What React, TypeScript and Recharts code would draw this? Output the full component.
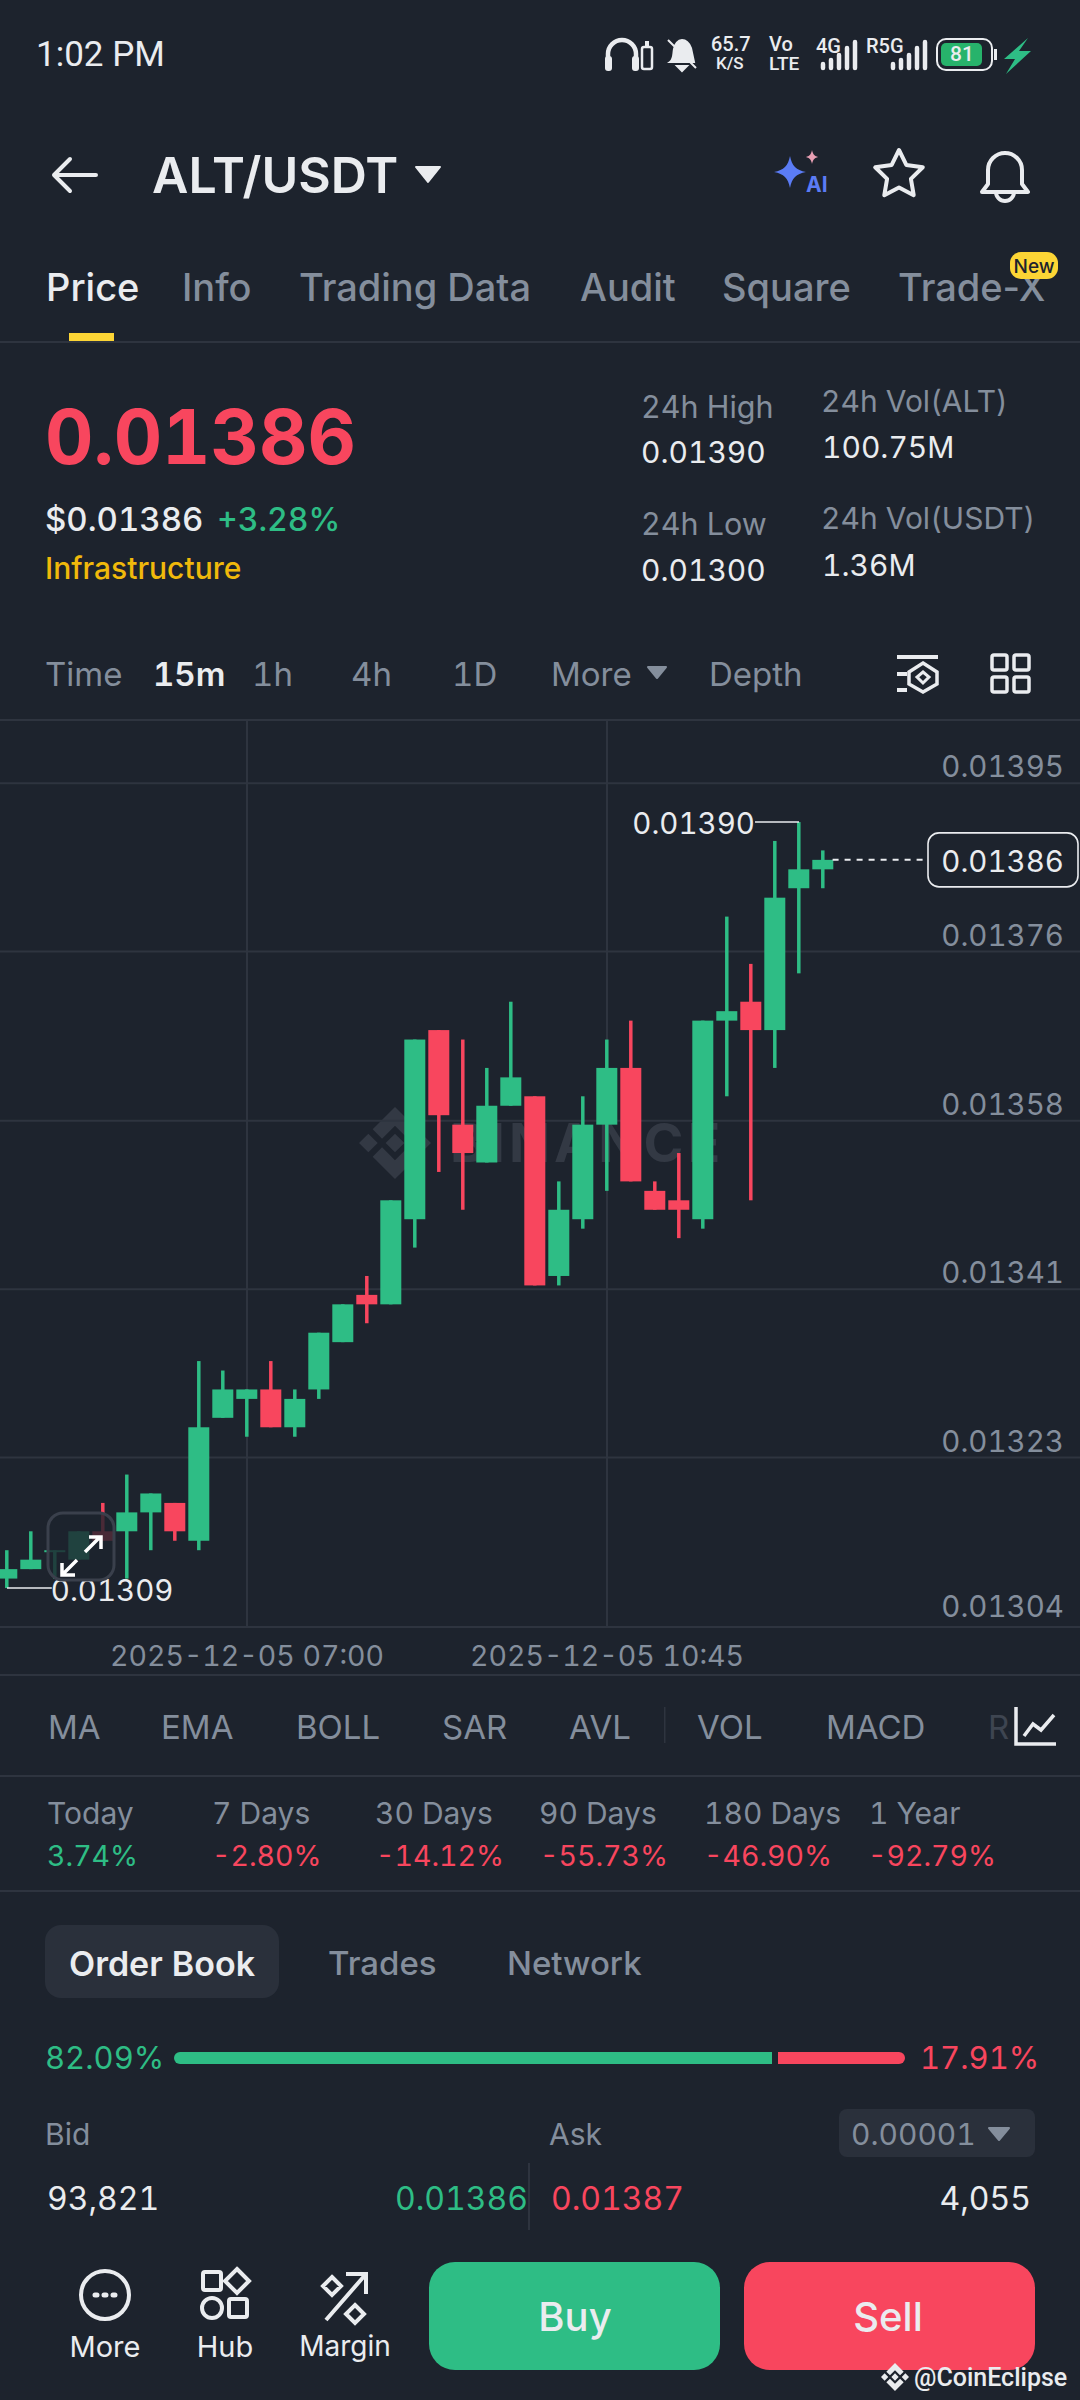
import React from 'react';
import { ComposedChart, Bar, XAxis, YAxis, CartesianGrid, ReferenceLine, ReferenceDot } from 'recharts';

const BG = '#1d232d';
const GREEN = '#2ebd85';
const RED = '#f8465e';
const GREY = '#848e9c';
const WHITE = '#eaecef';
const LINE = '#2e343f';
const PANEL = '#2a303b';

const candleTimes = [
  '04:30', '04:45', '05:00', '05:15', '05:30', '05:45', '06:00', '06:15', '06:30', '06:45', '07:00', '07:15',
  '07:30', '07:45', '08:00', '08:15', '08:30', '08:45', '09:00', '09:15', '09:30', '09:45', '10:00', '10:15',
  '10:30', '10:45', '11:00', '11:15', '11:30', '11:45', '12:00', '12:15', '12:30', '12:45', '13:00',
];
const openPrices = [
  0.0131, 0.01311, 0.01313, 0.01312, 0.01315, 0.01315, 0.01317, 0.01318, 0.01314, 0.01327, 0.01329, 0.0133,
  0.01326, 0.0133, 0.01335, 0.0134, 0.01339, 0.01348, 0.01368, 0.01358, 0.01354, 0.0136, 0.01361, 0.01342,
  0.01348, 0.01358, 0.01364, 0.01351, 0.0135, 0.01348, 0.01369, 0.01371, 0.01368, 0.01383, 0.01385,
];
const closePrices = [
  0.01311, 0.01312, 0.01313, 0.01315, 0.01314, 0.01317, 0.01319, 0.01315, 0.01326, 0.0133, 0.0133, 0.01326,
  0.01329, 0.01336, 0.01339, 0.01339, 0.0135, 0.01367, 0.01359, 0.01355, 0.0136, 0.01363, 0.01341, 0.01349,
  0.01358, 0.01364, 0.01352, 0.01349, 0.01349, 0.01369, 0.0137, 0.01368, 0.01382, 0.01385, 0.01386,
];
const highPrices = [
  0.01313, 0.01315, 0.01313, 0.01315, 0.01318, 0.01321, 0.01319, 0.01318, 0.01333, 0.01332, 0.0133, 0.01333,
  0.0133, 0.01336, 0.01339, 0.01342, 0.0135, 0.01367, 0.01368, 0.01367, 0.01364, 0.01371, 0.01361, 0.01352,
  0.01361, 0.01367, 0.01369, 0.01352, 0.01355, 0.01369, 0.0138, 0.01375, 0.01388, 0.0139, 0.01387,
];
const lowPrices = [
  0.01309, 0.01311, 0.0131, 0.01312, 0.01314, 0.0131, 0.01313, 0.01314, 0.01313, 0.01327, 0.01325, 0.01326,
  0.01325, 0.01329, 0.01335, 0.01337, 0.01339, 0.01345, 0.01353, 0.01349, 0.01354, 0.0136, 0.01341, 0.01341,
  0.01347, 0.01351, 0.01352, 0.01349, 0.01346, 0.01347, 0.01361, 0.0135, 0.01364, 0.01374, 0.01383,
];

const yTickPrices = [0.013941, 0.013763, 0.013584, 0.013406, 0.013228, 0.0130488];
const yTickLabels = ['0.01395', '0.01376', '0.01358', '0.01341', '0.01323', '0.01304'];
const xTickTimes = ['07:00', '10:45'];
const xTickLabels = ['2025-12-05 07:00', '2025-12-05 10:45'];

const statPeriods = ['Today', '7 Days', '30 Days', '90 Days', '180 Days', '1 Year'];
const statChanges = ['3.74%', '-2.80%', '-14.12%', '-55.73%', '-46.90%', '-92.79%'];
const topTabs = ['Price', 'Info', 'Trading Data', 'Audit', 'Square', 'Trade-X'];
const intervals = ['Time', '15m', '1h', '4h', '1D', 'More', 'Depth'];
const indicators = ['MA', 'EMA', 'BOLL', 'SAR', 'AVL', 'VOL', 'MACD'];

const toMinutes = (t: string) => {
  const [h, m] = t.split(':').map(Number);
  return h * 60 + m;
};

const candles = candleTimes.map((time, i) => ({
  minute: toMinutes(time),
  open: openPrices[i],
  close: closePrices[i],
  high: highPrices[i],
  low: lowPrices[i],
  range: [lowPrices[i], highPrices[i]],
}));

const Candle = (props: any) => {
  const { x, y, width, height, payload } = props;
  const pxPerPrice = height / (payload.high - payload.low);
  const top = y + (payload.high - Math.max(payload.open, payload.close)) * pxPerPrice;
  const bodyH = Math.max(Math.abs(payload.open - payload.close) * pxPerPrice, 2);
  const color = payload.close >= payload.open ? GREEN : RED;
  const mid = x + width / 2;
  return (
    <g>
      <rect x={mid - 1.75} y={y} width={3.5} height={height} fill={color} />
      <rect x={mid - 10.5} y={top} width={21} height={bodyH} fill={color} />
    </g>
  );
};

// the bottom label sits a little higher than the others
const YTick = (props: any) => (
  <text x={1064} y={props.y - (props.index === 5 ? 21 : 17)} textAnchor="end" dominantBaseline="central" fontSize={29.5} fill={GREY}>
    {yTickLabels[props.index]}
  </text>
);

const XTick = (props: any) => (
  <text x={props.x} y={1655 - 720} textAnchor="middle" dominantBaseline="central" fontSize={28.5} fill={GREY}>
    {xTickLabels[props.index]}
  </text>
);

const HighTag = (props: any) => (
  <text x={props.cx} y={props.cy + 1} textAnchor="end" dominantBaseline="central" fontSize={29.5} fill={WHITE}>
    0.01390
  </text>
);

const LowTag = (props: any) => (
  <text x={props.cx - 1} y={props.cy + 2} textAnchor="start" dominantBaseline="central" fontSize={29.5} fill={WHITE}>
    0.01309
  </text>
);

const LastTag = (props: any) => (
  <g>
    <rect x={928} y={props.cy - 27} width={150} height={54} rx={11} fill={BG} stroke={WHITE} strokeWidth={1.6} />
    <text x={1064} y={props.cy + 1} textAnchor="end" dominantBaseline="central" fontSize={29.5} fill={WHITE}>
      0.01386
    </text>
  </g>
);

const Txt = ({ x, y, s, c = GREY, w = 400, a = 'start', f, nv, children }: any) => (
  <text
    x={x}
    y={y}
    fontSize={s}
    fill={c}
    fontWeight={w}
    textAnchor={a}
    dominantBaseline="central"
    fontFamily={f}
    style={nv ? { fontVariantNumeric: 'normal' } : undefined}
  >
    {children}
  </text>
);

const Tri = ({ x, y, w, h, c }: any) => (
  <path d={`M${x} ${y}h${w}l${-w / 2} ${h}z`} fill={c} stroke={c} strokeWidth={2} strokeLinejoin="round" />
);

const Signal = ({ x, base, c = WHITE }: any) => (
  <g stroke={c} strokeWidth={4.5} strokeLinecap="round">
    <path d={`M${x} ${base}v-4M${x + 8} ${base}v-8M${x + 16} ${base}v-13M${x + 24} ${base}v-20M${x + 32} ${base}v-26`} />
  </g>
);

const StatusBar = () => (
  <g>
    <Txt x={36} y={54} s={35} c={WHITE} f="Roboto">1:02 PM</Txt>
    <path d="M608 66V54a14 14 0 0 1 28 0v12" fill="none" stroke={WHITE} strokeWidth={4.5} />
    <rect x={605} y={56} width={7} height={15} rx={3} fill={WHITE} />
    <rect x={632} y={56} width={7} height={15} rx={3} fill={WHITE} />
    <rect x={642} y={47} width={10} height={22} rx={2} fill="none" stroke={WHITE} strokeWidth={2.5} />
    <rect x={645} y={41} width={4} height={5} fill={WHITE} />
    <path d="M670 62c4-3 3-8 4-13s4-9 8-9 7 3 9 8l3 14zM677 66h10l-5 5zM668 40l28 28" fill={WHITE} stroke={WHITE} strokeWidth={2} />
    <Txt x={711} y={44} s={20} c={WHITE} w={500} f="Roboto">65.7</Txt>
    <Txt x={716} y={63} s={17} c={WHITE} w={500} f="Roboto">K/S</Txt>
    <Txt x={769} y={44} s={20} c={WHITE} w={500} f="Roboto">Vo</Txt>
    <Txt x={769} y={63} s={19} c={WHITE} w={500} f="Roboto">LTE</Txt>
    <Txt x={816} y={46} s={20} c={WHITE} w={500} f="Roboto">4G</Txt>
    <Signal x={823} base={68} />
    <Txt x={866} y={46} s={20} c={WHITE} w={500} f="Roboto">R5G</Txt>
    <Signal x={893} base={68} />
    <rect x={937} y={39} width={55} height={31} rx={9} fill="none" stroke={WHITE} strokeWidth={2} />
    <rect x={941} y={43} width={41} height={23} rx={5} fill="#27b36b" />
    <rect x={994} y={49} width={3} height={11} fill={WHITE} />
    <Txt x={962} y={54} s={21} c={WHITE} w={500} a="middle" f="Roboto">81</Txt>
    <path d="M1028 38l-24 21h11l-9 15 25-23h-12l9-13z" fill={GREEN} />
  </g>
);

const Header = () => (
  <g>
    <path d="M96 175H54M70 159L54 175l16 16" fill="none" stroke={WHITE} strokeWidth={4} strokeLinecap="round" strokeLinejoin="round" />
    <Txt x={152} y={175} s={50} c={WHITE} w={600}>ALT/USDT</Txt>
    <Tri x={416} y={167} w={24} h={15} c={WHITE} />
    <path d="M790 156c2 10 6 14 16 16-10 2-14 6-16 16-2-10-6-14-16-16 10-2 14-6 16-16z" fill="#5b7cf5" />
    <path d="M812 150c1 5 3 6 6 7-3 1-5 2-6 7-1-5-3-6-6-7 3-1 5-2 6-7z" fill="#e8a0b4" />
    <Txt x={806} y={184} s={21} c="#5b7cf5" w={700}>AI</Txt>
    <polygon
      points="899,150 906.3,164.9 922.8,167.3 910.9,178.9 913.7,195.2 899,187.5 884.3,195.2 887.1,178.9 875.2,167.3 891.7,164.9"
      fill="none" stroke={WHITE} strokeWidth={4} strokeLinejoin="round"
    />
    <path d="M988 184v-14a17 17 0 0 1 34 0v14l6 8H982zM996 192a9 9 0 0 0 18 0" fill="none" stroke={WHITE} strokeWidth={4} strokeLinejoin="round" />
    {topTabs.map((t, i) => (
      <Txt key={t} x={[46, 182, 299, 580, 722, 898][i]} y={287} s={38} c={i === 0 ? WHITE : GREY} w={500} nv>{t}</Txt>
    ))}
    <rect x={1010} y={252} width={48} height={27} rx={11} fill="#fcd535" />
    <Txt x={1034} y={266} s={19} c="#1d232d" w={500} a="middle">New</Txt>
    <rect x={69} y={333} width={45} height={9} fill="#fcd535" />
    <rect x={0} y={341} width={1080} height={2} fill={LINE} />
  </g>
);

const PriceBlock = () => (
  <g>
    <Txt x={45} y={436} s={75} c={RED} w={700}>0.01386</Txt>
    <Txt x={45} y={519} s={33} c={WHITE} w={500}>$0.01386</Txt>
    <Txt x={217} y={519} s={32} c={GREEN} w={500}>+3.28%</Txt>
    <Txt x={45} y={568} s={30} c="#f0b90b" w={500}>Infrastructure</Txt>
    <Txt x={641} y={406} s={30.5}>24h High</Txt>
    <Txt x={641} y={452} s={30} c={WHITE}>0.01390</Txt>
    <Txt x={641} y={523} s={30.5}>24h Low</Txt>
    <Txt x={641} y={570} s={30} c={WHITE}>0.01300</Txt>
    <Txt x={821} y={401} s={30}>24h Vol(ALT)</Txt>
    <Txt x={822} y={447} s={30} c={WHITE}>100.75M</Txt>
    <Txt x={821} y={518} s={30}>24h Vol(USDT)</Txt>
    <Txt x={822} y={565} s={30} c={WHITE}>1.36M</Txt>
  </g>
);

const IntervalRow = () => (
  <g>
    {intervals.map((t, i) => (
      <Txt key={t} x={[45, 153, 252, 351, 452, 551, 709][i]} y={674} s={33} c={i === 1 ? WHITE : GREY} w={i === 1 ? 600 : 400}>{t}</Txt>
    ))}
    <Tri x={648} y={667} w={18} h={11} c={GREY} />
    <path d="M897 657h41M897 674h10M897 690h10" stroke={WHITE} strokeWidth={4} />
    <path d="M923 663l14 9v12l-14 8-14-8v-12z" fill="none" stroke={WHITE} strokeWidth={3.5} />
    <path d="M923 672l6 5-6 6-6-6z" fill="none" stroke={WHITE} strokeWidth={3} />
    {[[992, 655], [1014, 655], [992, 677], [1014, 677]].map(([x, y]) => (
      <rect key={`${x}-${y}`} x={x} y={y} width={15} height={15} rx={2} fill="none" stroke={WHITE} strokeWidth={3.5} />
    ))}
    <rect x={0} y={719} width={1080} height={2} fill={LINE} />
  </g>
);

const BinanceLogo = ({ cx, cy, r, c }: any) => (
  <g transform={`translate(${cx} ${cy}) scale(${r / 10})`} fill={c}>
    <path d="M0-2.6L2.6 0 0 2.6-2.6 0z" />
    <path d="M-10 0l2.6-2.6L-4.8 0l-2.6 2.6zM10 0L7.4 2.6 4.8 0l2.6-2.6z" />
    <path d="M0-10L6.2-3.8 3.6-1.2 0-4.8-3.6-1.2-6.2-3.8z" />
    <path d="M0 10L-6.2 3.8-3.6 1.2 0 4.8 3.6 1.2 6.2 3.8z" />
  </g>
);

const Watermark = () => (
  <g>
    <BinanceLogo cx={395} cy={1143} r={36} c="#333944" />
    <text x={450} y={1162} fontSize={54} fontWeight={700} letterSpacing={4} fill="#333944">BINANCE</text>
  </g>
);

const LowerPanels = () => (
  <g>
    <rect x={0} y={1674} width={1080} height={2} fill={LINE} />
    {indicators.map((t, i) => (
      <Txt key={t} x={[48, 161, 296, 442, 569, 697, 826][i]} y={1727} s={33}>{t}</Txt>
    ))}
    <rect x={664} y={1707} width={1.5} height={36} fill={LINE} />
    <Txt x={988} y={1727} s={33} c="#3e4551">R</Txt>
    <path d="M1016 1707v37h40" fill="none" stroke={WHITE} strokeWidth={3.5} />
    <path d="M1024 1736l9-12 8 6 13-15" fill="none" stroke={WHITE} strokeWidth={3.5} />
    <rect x={0} y={1775} width={1080} height={2} fill={LINE} />
    {statPeriods.map((t, i) => (
      <Txt key={t} x={[47, 212, 375, 539, 704, 869][i]} y={1813} s={30}>{t}</Txt>
    ))}
    {statChanges.map((t, i) => (
      <Txt key={t} x={[47, 212, 376, 540, 704, 868][i]} y={1855} s={28.5} c={i === 0 ? GREEN : RED}>{t}</Txt>
    ))}
    <rect x={0} y={1890} width={1080} height={2} fill={LINE} />

    <rect x={45} y={1925} width={234} height={73} rx={16} fill={PANEL} />
    <Txt x={69} y={1963} s={34} c={WHITE} w={600}>Order Book</Txt>
    <Txt x={328} y={1963} s={33} w={500}>Trades</Txt>
    <Txt x={507} y={1963} s={33} w={500}>Network</Txt>

    <Txt x={45} y={2057} s={31} c={GREEN}>82.09%</Txt>
    <path d="M180 2052H772V2064H180a6 6 0 0 1 0-12z" fill={GREEN} />
    <path d="M778 2052H899a6 6 0 0 1 0 12H778z" fill={RED} />
    <Txt x={920} y={2057} s={31} c={RED}>17.91%</Txt>

    <Txt x={45} y={2134} s={30}>Bid</Txt>
    <Txt x={549} y={2134} s={30}>Ask</Txt>
    <rect x={839} y={2109} width={196} height={48} rx={8} fill={PANEL} />
    <Txt x={851} y={2134} s={30}>0.00001</Txt>
    <Tri x={989} y={2128} w={20} h={12} c={GREY} />

    <Txt x={47} y={2198} s={32} c={WHITE}>93,821</Txt>
    <Txt x={528} y={2198} s={32} c={GREEN} a="end">0.01386</Txt>
    <Txt x={551} y={2198} s={32} c={RED}>0.01387</Txt>
    <Txt x={1031} y={2198} s={32} c={WHITE} a="end">4,055</Txt>
    <rect x={528} y={2163} width={2} height={67} fill={LINE} />

    <circle cx={105} cy={2295} r={24} fill="none" stroke={WHITE} strokeWidth={4} />
    <path d="M95 2295h2M104 2295h2M113 2295h2" stroke={WHITE} strokeWidth={5} strokeLinecap="round" />
    <Txt x={105} y={2346} s={29} c={WHITE} a="middle">More</Txt>

    <rect x={203} y={2272} width={18} height={18} rx={2} fill="none" stroke={WHITE} strokeWidth={4} />
    <path d="M237 2269l12 12-12 12-12-12z" fill="none" stroke={WHITE} strokeWidth={4} />
    <circle cx={212} cy={2308} r={10} fill="none" stroke={WHITE} strokeWidth={4} />
    <rect x={229} y={2299} width={18} height={18} rx={2} fill="none" stroke={WHITE} strokeWidth={4} />
    <Txt x={225} y={2346} s={29} c={WHITE} a="middle">Hub</Txt>

    <path d="M326 2320l40-46M346 2274h20v20" fill="none" stroke={WHITE} strokeWidth={4} />
    <path d="M332 2277l9 9-9 9-9-9zM355 2305l9 9-9 9-9-9z" fill="none" stroke={WHITE} strokeWidth={4} />
    <Txt x={345} y={2346} s={28} c={WHITE} a="middle">Margin</Txt>

    <rect x={429} y={2262} width={291} height={108} rx={26} fill={GREEN} />
    <Txt x={575} y={2316} s={40} c={WHITE} w={500} a="middle">Buy</Txt>
    <rect x={744} y={2262} width={291} height={108} rx={26} fill={RED} />
    <Txt x={888} y={2316} s={40} c={WHITE} w={500} a="middle">Sell</Txt>

    <BinanceLogo cx={895} cy={2377} r={14} c={WHITE} />
    <Txt x={914} y={2377} s={25} c={WHITE} w={500} f="Roboto">@CoinEclipse</Txt>
  </g>
);

const ExpandButton = () => (
  <svg width={1080} height={2400} style={{ position: 'absolute', left: 0, top: 0 }}>
    <rect x={48} y={1513} width={66} height={67} rx={15} fill={BG} fillOpacity={0.8} stroke="#3a404c" strokeWidth={3} />
    <path d="M85 1552l14-14M89 1537h12v12M77 1560l-14 14M75 1575H62v-12" fill="none" stroke="#ffffff" strokeWidth={3.5} />
  </svg>
);

const App = () => (
  <div style={{ position: 'absolute', left: 0, top: 0, width: 1080, height: 2400, background: BG, fontFamily: 'Inter, sans-serif', fontVariantNumeric: 'tabular-nums', overflow: 'hidden' }}>
    <svg width={1080} height={2400} style={{ position: 'absolute', left: 0, top: 0 }}>
      <StatusBar />
      <Header />
      <PriceBlock />
      <IntervalRow />
      <Watermark />
      <LowerPanels />
    </svg>
    <div style={{ position: 'absolute', left: 0, top: 720 }}>
      <ComposedChart width={1080} height={955} data={candles} margin={{ top: 0, right: 0, bottom: 0, left: 0 }}>
        <CartesianGrid
          stroke={LINE}
          strokeWidth={2}
          horizontalValues={yTickPrices}
          verticalValues={xTickTimes.map(toMinutes)}
        />
        <XAxis
          dataKey="minute"
          type="number"
          domain={[265.625, 940.625]}
          ticks={xTickTimes.map(toMinutes)}
          tick={<XTick />}
          interval={0}
          height={48}
          axisLine={false}
          tickLine={false}
          allowDataOverflow
        />
        <YAxis
          orientation="right"
          mirror
          width={60}
          domain={[0.0130488, 0.0140079]}
          ticks={yTickPrices}
          tick={<YTick />}
          interval={0}
          axisLine={false}
          tickLine={false}
          allowDataOverflow
        />
        <Bar dataKey="range" barSize={24} shape={<Candle />} isAnimationActive={false} />
        <ReferenceLine segment={[{ x: 737.5, y: 0.0139 }, { x: 765, y: 0.0139 }]} stroke={WHITE} strokeWidth={1.6} />
        <ReferenceDot x={737.5} y={0.0139} shape={<HighTag />} />
        <ReferenceLine segment={[{ x: 270, y: 0.01309 }, { x: 298, y: 0.01309 }]} stroke={WHITE} strokeWidth={1.6} />
        <ReferenceDot x={298} y={0.01309} shape={<LowTag />} />
        <ReferenceLine segment={[{ x: 786, y: 0.01386 }, { x: 844, y: 0.01386 }]} stroke={WHITE} strokeWidth={2} strokeDasharray="6 6" />
        <ReferenceDot x={844} y={0.01386} shape={<LastTag />} />
      </ComposedChart>
    </div>
    <ExpandButton />
  </div>
);

export default App;
